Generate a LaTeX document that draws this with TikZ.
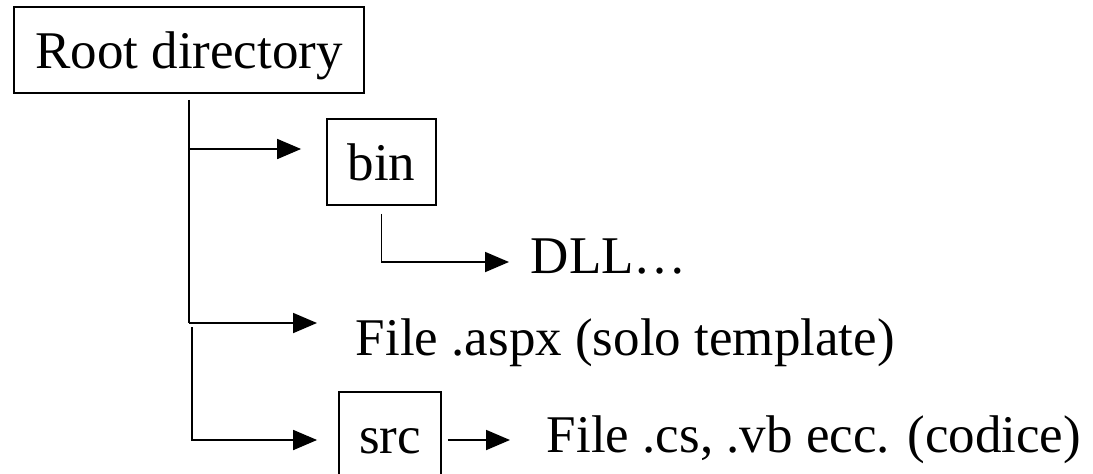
\documentclass[tikz,border=0pt]{standalone}
\usepackage{fontspec}
\setmainfont{Liberation Serif}
\usetikzlibrary{arrows.meta}
\begin{document}
\begin{tikzpicture}[x=0.5pt, y=-0.5pt, line width=0.9pt,
    every node/.style={font=\fontsize{26.5}{30}\selectfont, inner sep=0pt},
    dirbox/.style={draw, minimum height=43pt, text height=18pt, text depth=0pt},
    leaf/.style={anchor=base west},
    >={Triangle[length=12pt, width=10pt]}]
            \clip (0,0) rectangle (1093,473);
            \node[dirbox, minimum width=175pt] (root) at (189,50) {Root directory};
            \node[dirbox, minimum width=54.5pt] (bin) at (381.5,162) {bin};
            \node[dirbox, minimum width=51pt] (src) at (390,435) {src};
            \node[leaf] (dll)  at (530,273) {DLL…};
            \node[leaf] (aspx) at (355,355) {File .aspx (solo template)};
            \node[leaf] (code) at (546,452) {File .cs, .vb ecc. (codice)};

            \coordinate (j0) at (189,149);
            \coordinate (j1) at (189,323);
            \coordinate (k1) at (192,327);
            \coordinate (j2) at (192,440);
            \coordinate (j3) at (381.5,262);

            \draw[shorten <=3pt] (root.south) -- (j1);
            \draw[->, shorten >=12.5pt] (j0) -- (j0 -| bin.west);
            \draw[->, shorten >=19pt] (j1) -- (j1 -| aspx.west);
            \draw[->, shorten >=10.5pt] (k1) -- (j2) -- (j2 -| src.west);
            \draw[->, shorten <=4pt, shorten >=10.5pt] (bin.south) -- (j3) -- (j3 -| dll.west);
            \draw[->, shorten <=3pt, shorten >=18pt] (j2 -| src.east) -- (j2 -| code.west);
        \end{tikzpicture}
\end{document}
